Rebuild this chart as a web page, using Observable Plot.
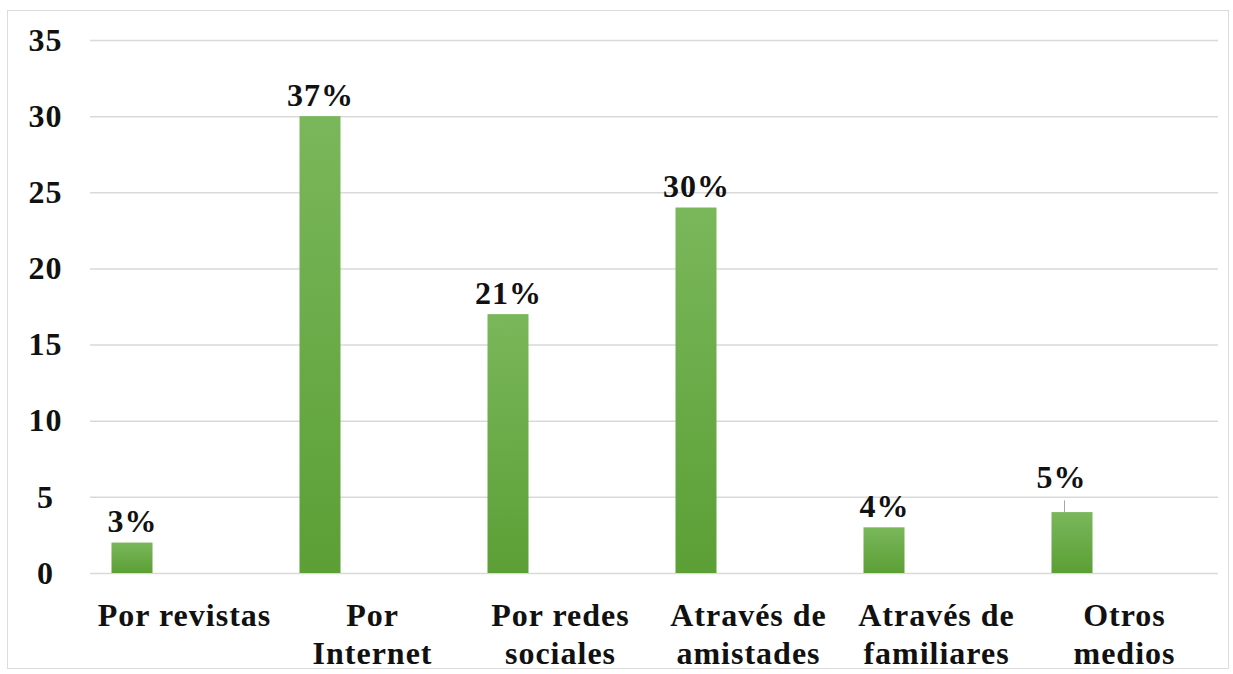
<!DOCTYPE html>
<html>
<head>
<meta charset="utf-8">
<script src="https://cdn.jsdelivr.net/npm/d3@7"></script>
<script src="https://cdn.jsdelivr.net/npm/@observablehq/plot@0.6"></script>
<style>
  html, body { margin: 0; padding: 0; background: #fff; }
  #wrap { position: relative; width: 1233px; height: 674px; }
  #frame { position: absolute; left: 7px; top: 10px; width: 1222px; height: 659px; border: 1px solid #dcdcdc; box-sizing: border-box; pointer-events: none; }
</style>
</head>
<body>
<div id="wrap"><div id="frame"></div></div>
<script>
const categories = ["Por revistas", "Por\nInternet", "Por redes\nsociales", "Através de\namistades", "Através de\nfamiliares", "Otros\nmedios"];
const values = [2, 30, 17, 24, 3, 4];
const labels = ["3%", "37%", "21%", "30%", "4%", "5%"];
const yTicks = [0, 5, 10, 15, 20, 25, 30, 35];

const data = categories.map((c, i) => ({category: c, value: values[i], label: labels[i]}));
const leader = data.filter((d, i) => i === 5);

const chart = Plot.plot({
  width: 1233,
  height: 674,
  marginLeft: 90,
  marginRight: 15,
  marginTop: 40,
  marginBottom: 101,
  style: {fontFamily: "'Liberation Serif', 'Times New Roman', serif", fontWeight: "bold", color: "#111", background: "transparent", overflow: "visible", letterSpacing: "1px"},
  x: {domain: categories, padding: 0, round: false},
  y: {domain: [0, 35]},
  marks: [
    Plot.gridY(yTicks, {stroke: "#d9d9d9", strokeOpacity: 1, strokeWidth: 1.5}),
    Plot.barY(data, {x: "category", y: "value", fill: "url(#barGrad)", insetLeft: 21.5, insetRight: 125.5}),
    Plot.text(data.filter((d, i) => i !== 5), {x: "category", y: "value", text: "label", dx: -52, dy: -11, lineAnchor: "bottom", fontSize: 32, fill: "#111"}),
    Plot.text(leader, {x: "category", y: "value", text: "label", dx: -63, dy: -25, lineAnchor: "bottom", fontSize: 32, fill: "#111"}),
    Plot.link(leader, {x1: "category", x2: "category", y1: "value", y2: d => d.value + 0.8, dx: -60, stroke: "#a6a6a6", strokeWidth: 1}),
    Plot.axisY(yTicks, {tickSize: 0, tickPadding: 45, textAnchor: "middle", fontSize: 32, label: null}),
    Plot.axisX({tickSize: 0, tickPadding: 25, fontSize: 32, lineHeight: 1.19, label: null})
  ]
});

const ns = "http://www.w3.org/2000/svg";
const defs = document.createElementNS(ns, "defs");
defs.innerHTML = '<linearGradient id="barGrad" x1="0" y1="0" x2="0" y2="1"><stop offset="0" stop-color="#7ab75b"/><stop offset="1" stop-color="#5b9f35"/></linearGradient>';
chart.insertBefore(defs, chart.firstChild);
chart.style.position = "absolute";
chart.style.left = "0";
chart.style.top = "0";
document.getElementById("wrap").appendChild(chart);
</script>
</body>
</html>
